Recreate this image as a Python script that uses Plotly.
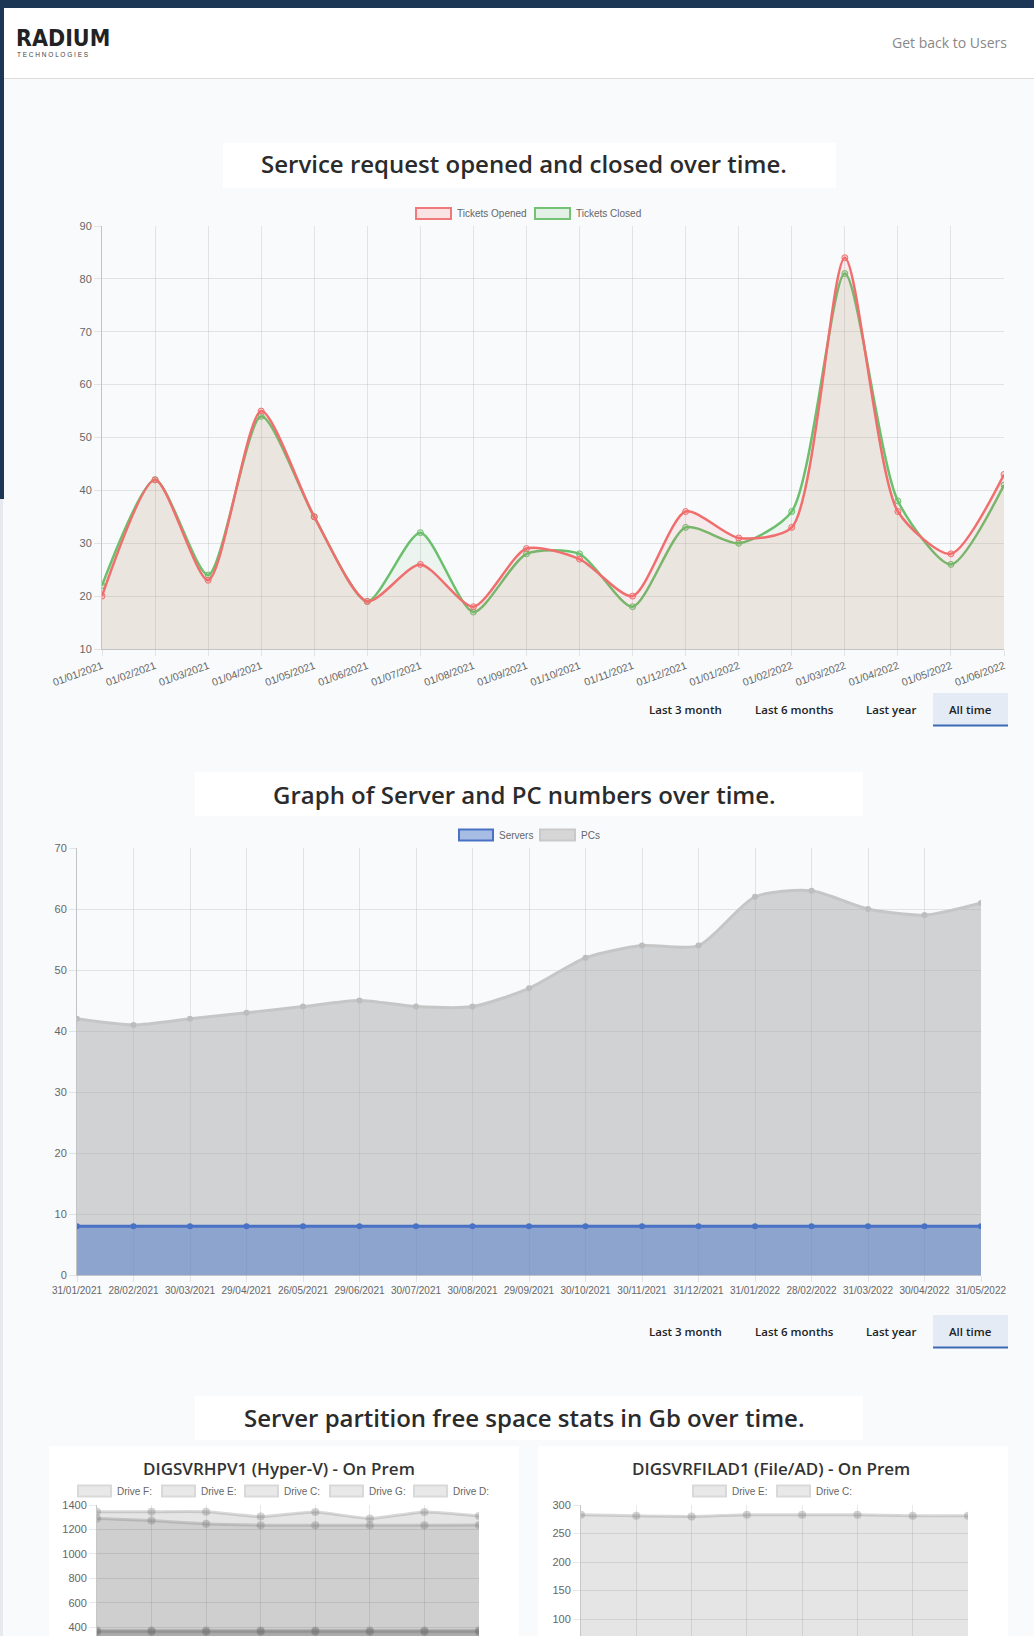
import plotly.graph_objects as go

W, H = 1034, 1636

# ---------------- data ----------------
ticket_months = ["01/01/2021", "01/02/2021", "01/03/2021", "01/04/2021", "01/05/2021", "01/06/2021",
                 "01/07/2021", "01/08/2021", "01/09/2021", "01/10/2021", "01/11/2021", "01/12/2021",
                 "01/01/2022", "01/02/2022", "01/03/2022", "01/04/2022", "01/05/2022", "01/06/2022"]
tickets_opened = [20, 42, 23, 55, 35, 19, 26, 18, 29, 27, 20, 36, 31, 33, 84, 36, 28, 43]
tickets_closed = [22, 42, 24, 54, 35, 19, 32, 17, 28, 28, 18, 33, 30, 36, 81, 38, 26, 41]

device_dates = ["31/01/2021", "28/02/2021", "30/03/2021", "29/04/2021", "26/05/2021", "29/06/2021",
                "30/07/2021", "30/08/2021", "29/09/2021", "30/10/2021", "30/11/2021", "31/12/2021",
                "31/01/2022", "28/02/2022", "31/03/2022", "30/04/2022", "31/05/2022"]
servers = [8, 8, 8, 8, 8, 8, 8, 8, 8, 8, 8, 8, 8, 8, 8, 8, 8]
pcs = [42, 41, 42, 43, 44, 45, 44, 44, 47, 52, 54, 54, 62, 63, 60, 59, 61]

snapshots = ["1", "2", "3", "4", "5", "6", "7", "8"]
hpv1_drive_f = [1345, 1345, 1345, 1305, 1343, 1290, 1343, 1310]
hpv1_drive_e = [1290, 1274, 1246, 1235, 1235, 1235, 1235, 1236]
hpv1_drive_c = [373, 373, 373, 373, 373, 373, 373, 373]
hpv1_drive_g = [362, 362, 362, 362, 362, 362, 362, 362]
hpv1_drive_d = [150, 150, 150, 150, 150, 150, 150, 150]
filad1_drive_e = [283, 281, 280, 283, 283, 283, 281, 281]
filad1_drive_c = [45, 45, 45, 45, 45, 45, 45, 45]

button_labels = ["Last 3 month", "Last 6 months", "Last year", "All time"]

# ---------------- helpers ----------------
def px(x):
    return x / W

def py(y):
    return 1 - y / H

PAGE_BG = "#f8fafc"
AX_FONT = dict(family="Liberation Sans, Arial, sans-serif", size=11, color="#666666")
GRID = "rgba(0,0,0,0.09)"
AXLINE = "rgba(0,0,0,0.22)"
TITLE_FONT = "Open Sans, sans-serif"

fig = go.Figure()
shapes = []
annots = []

def rect(x0, y0, x1, y1, fill, line_color=None, line_width=0, layer="below"):
    shapes.append(dict(type="rect", xref="paper", yref="paper",
                       x0=px(x0), x1=px(x1), y0=py(y1), y1=py(y0),
                       fillcolor=fill, layer=layer,
                       line=dict(color=line_color or fill, width=line_width)))

def hline(x0, x1, y, color, width=1):
    shapes.append(dict(type="line", xref="paper", yref="paper",
                       x0=px(x0), x1=px(x1), y0=py(y), y1=py(y),
                       line=dict(color=color, width=width), layer="below"))

def text(x, y, s, size, color, family=TITLE_FONT, xanchor="center", weight=None):
    f = dict(family=family, size=size, color=color)
    if weight:
        f["weight"] = weight
    annots.append(dict(xref="paper", yref="paper", x=px(x), y=py(y), text=s,
                       showarrow=False, xanchor=xanchor, yanchor="middle", font=f))

def legend_box(x0, x1, yc, fill, border, label):
    rect(x0, yc - 5.5, x1, yc + 5.5, fill, border, 2, layer="above")
    text(x1 + 4, yc, label, 10, "#666666", family="Liberation Sans, Arial, sans-serif", xanchor="left")

# ---------------- page chrome ----------------
rect(0, 0, W, 8, "#1c3655")
rect(4, 8, W, 78, "#ffffff")
hline(4, W, 78.5, "#dcdcdc", 1)
rect(0, 0, 4, 499, "#1c3655")
rect(0, 499, 3, H, "#e6e9ee")
text(14, 38, "<b>RADIUM</b>", 23, "#222222",
     family="DejaVu Sans Condensed, Liberation Sans Narrow, Arial Narrow, sans-serif", xanchor="left")
text(15, 54, "T E C H N O L O G I E S", 6.5, "#444444", family="Liberation Sans, Arial, sans-serif", xanchor="left")
text(1009, 42, "Get back to Users", 14, "#888888", xanchor="right")

# titles
rect(223, 143, 836, 188, "#ffffff")
text(524, 164, "Service request opened and closed over time.", 24, "#2b2b2b", weight=600)
rect(195, 772, 863, 816, "#ffffff")
text(524, 794, "Graph of Server and PC numbers over time.", 24, "#2b2b2b", weight=600)
rect(195, 1396, 863, 1440, "#ffffff")
text(524, 1417, "Server partition free space stats in Gb over time.", 24, "#2b2b2b", weight=600)

# buttons
btn_x = [685, 794, 891, 970]
for by in (709.5, 1331.5):
    rect(933, by - 16.5, 1008, by + 16.5, "#e4ebf5")
    hline(933, 1008, by + 16, "#3d6ab5", 2)
    for bx, lab in zip(btn_x, button_labels):
        text(bx, by, lab, 11.5, "#222222", weight=600)

# cards
rect(49, 1446, 519, H + 5, "#ffffff")
rect(538, 1446, 1008, H + 5, "#ffffff")
text(279, 1468, "DIGSVRHPV1 (Hyper-V) - On Prem", 17, "#333333", weight=600)
text(771, 1468, "DIGSVRFILAD1 (File/AD) - On Prem", 17, "#333333", weight=600)

# legends
legend_box(416, 451, 213.5, "rgba(255,99,99,0.15)", "#f07a7a", "Tickets Opened")
legend_box(535, 570, 213.5, "rgba(100,190,100,0.15)", "#74c274", "Tickets Closed")
legend_box(459, 493, 835, "#a8bde4", "#4a72c4", "Servers")
legend_box(540, 575, 835, "#d6d6d6", "#c9c9c9", "PCs")
for x0, lab in zip([78, 162, 245, 330, 414], ["Drive F:", "Drive E:", "Drive C:", "Drive G:", "Drive D:"]):
    legend_box(x0, x0 + 33, 1491, "#e8e8e8", "#d9d9d9", lab)
for x0, lab in zip([693, 777], ["Drive E:", "Drive C:"]):
    legend_box(x0, x0 + 33, 1491, "#e8e8e8", "#d9d9d9", lab)

# ---------------- chart 1: tickets ----------------
fig.add_trace(go.Scatter(
    x=ticket_months, y=tickets_closed, name="Tickets Closed", mode="lines+markers",
    line=dict(color="#6cbf6c", width=2.5, shape="spline", smoothing=0.7),
    marker=dict(size=6, color="rgba(100,190,100,0.25)", line=dict(color="#6cbf6c", width=1)),
    fill="tozeroy", fillcolor="rgba(100,190,100,0.085)", xaxis="x", yaxis="y"))
fig.add_trace(go.Scatter(
    x=ticket_months, y=tickets_opened, name="Tickets Opened", mode="lines+markers",
    line=dict(color="#f06e6e", width=2.5, shape="spline", smoothing=0.7),
    marker=dict(size=6, color="rgba(255,99,99,0.25)", line=dict(color="#f06e6e", width=1)),
    fill="tozeroy", fillcolor="rgba(240,100,100,0.10)", xaxis="x", yaxis="y"))

# ---------------- chart 2: servers & PCs ----------------
fig.add_trace(go.Scatter(
    x=device_dates, y=pcs, name="PCs", mode="lines+markers",
    line=dict(color="#c6c6c6", width=3, shape="spline", smoothing=0.7),
    marker=dict(size=6, color="#bdbdbd"),
    fill="tozeroy", fillcolor="rgba(168,169,172,0.5)", xaxis="x2", yaxis="y2"))
fig.add_trace(go.Scatter(
    x=device_dates, y=servers, name="Servers", mode="lines+markers",
    line=dict(color="#4a72c4", width=3, shape="spline", smoothing=0.7),
    marker=dict(size=6, color="#4a72c4"),
    fill="tozeroy", fillcolor="rgba(74,120,200,0.5)", xaxis="x2", yaxis="y2"))

# ---------------- chart 3 & 4: partitions ----------------
def drive_trace(vals, name, xa, ya):
    return go.Scatter(
        x=snapshots, y=vals, name=name, mode="lines+markers",
        line=dict(color="rgba(130,130,130,0.30)", width=3, shape="spline", smoothing=0.5),
        marker=dict(size=8, color="rgba(130,130,130,0.35)"),
        fill="tozeroy", fillcolor="rgba(80,80,80,0.15)", xaxis=xa, yaxis=ya)

for vals, nm in [(hpv1_drive_d, "Drive D:"), (hpv1_drive_g, "Drive G:"), (hpv1_drive_c, "Drive C:"),
                 (hpv1_drive_e, "Drive E:"), (hpv1_drive_f, "Drive F:")]:
    fig.add_trace(drive_trace(vals, nm, "x3", "y3"))
for vals, nm in [(filad1_drive_c, "Drive C:"), (filad1_drive_e, "Drive E:")]:
    fig.add_trace(drive_trace(vals, nm, "x4", "y4"))

def xax(dom, n, **kw):
    d = dict(domain=[px(dom[0]), px(dom[1])], type="category", range=[0, n - 1],
             showgrid=True, gridcolor=GRID, zeroline=False, automargin=False,
             showline=True, linecolor=AXLINE, ticks="outside", ticklen=6,
             tickcolor=GRID, tickfont=dict(AX_FONT, size=10.5))
    d.update(kw)
    return d

def yax(dom, rng, dtick, anchor, **kw):
    d = dict(domain=[py(dom[1]), py(dom[0])], range=rng, dtick=dtick,
             showgrid=True, gridcolor=GRID, zeroline=False, automargin=False,
             showline=True, linecolor=AXLINE, ticks="outside", ticklen=7,
             tickcolor=GRID, tickfont=AX_FONT, anchor=anchor)
    d.update(kw)
    return d

fig.update_layout(
    width=W, height=H, margin=dict(l=0, r=0, t=0, b=0, pad=0, autoexpand=False),
    paper_bgcolor=PAGE_BG, plot_bgcolor="rgba(0,0,0,0)",
    showlegend=False, shapes=shapes, annotations=annots,
    xaxis=xax((102, 1004), len(ticket_months), anchor="y", tickangle=-20),
    yaxis=yax((226, 649), [10, 90], 10, "x"),
    xaxis2=xax((77, 981), len(device_dates), anchor="y2", tickangle=0, tickfont=dict(AX_FONT, size=10)),
    yaxis2=yax((848, 1275), [0, 70], 10, "x2"),
    xaxis3=xax((97, 479), len(snapshots), anchor="y3", showticklabels=False),
    yaxis3=yax((1505, H), [328, 1400], 200, "x3"),
    xaxis4=xax((581, 968), len(snapshots), anchor="y4", showticklabels=False),
    yaxis4=yax((1505, H), [70.5, 300], 50, "x4"),
)

fig.write_html("out.html", config={"displayModeBar": False},
               post_script="document.body.style.margin='0';document.body.style.overflow='hidden';")
